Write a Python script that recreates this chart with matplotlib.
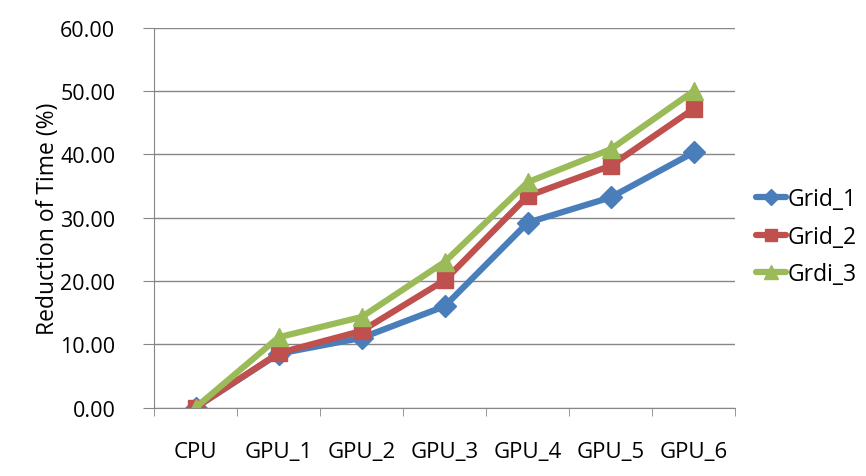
import matplotlib
matplotlib.use('Agg')
import matplotlib.pyplot as plt
import numpy as np

categories = ['CPU', 'GPU_1', 'GPU_2', 'GPU_3', 'GPU_4', 'GPU_5', 'GPU_6']
grid_1 = [0.0, 8.5, 11.0, 16.0, 29.2, 33.2, 40.3]
grid_2 = [0.0, 8.6, 12.1, 20.1, 33.4, 38.2, 47.2]
grdi_3 = [0.0, 11.1, 14.3, 23.0, 35.6, 40.8, 50.0]
y_ticks = [0, 10, 20, 30, 40, 50, 60]

plt.rcParams['font.family'] = ['Open Sans', 'DejaVu Sans']

fig = plt.figure(figsize=(8.66, 4.77), dpi=100)
ax = fig.add_axes([0.178, 0.1436, 0.671, 0.7962])

x = np.arange(len(categories))
series = [
    (grid_1, 'Grid_1', '#4a7ebb', 'D', 11),
    (grid_2, 'Grid_2', '#c0504d', 's', 12),
    (grdi_3, 'Grdi_3', '#9bbb59', '^', 13),
]
for vals, name, col, mk, ms in series:
    ax.plot(x, vals, color=col, lw=4.5, marker=mk, markersize=ms,
            markerfacecolor=col, markeredgecolor=col, label=name,
            solid_capstyle='round')

ax.set_xlim(-0.5, len(categories) - 0.5)
ax.set_ylim(0, 60)
ax.set_yticks(y_ticks)
ax.set_yticklabels(['%.2f' % v for v in y_ticks], fontsize=15.5)
ax.set_xticks(x)
ax.set_xticklabels(categories, fontsize=16)
ax.set_xticks(np.arange(-0.5, len(categories)), minor=True)
ax.tick_params(axis='x', which='major', length=0, pad=24)
ax.tick_params(axis='x', which='minor', length=6, color='#868686', direction='out')
ax.tick_params(axis='y', length=8, color='#868686', pad=20)
ax.yaxis.grid(True, color='#868686', lw=1)
ax.set_axisbelow(True)
for s in ['top', 'right']:
    ax.spines[s].set_visible(False)
for s in ['left', 'bottom']:
    ax.spines[s].set_color('#868686')
ax.set_ylabel('Reduction of Time (%)', fontsize=16.5, labelpad=0)

ax.legend(loc='center left', bbox_to_anchor=(1.0, 0.45), frameon=False,
          fontsize=16.5, handlelength=1.3, handletextpad=0.1, labelspacing=0.6,
          borderaxespad=0.5, markerscale=0.75)

fig.savefig('out.png', dpi=100)
